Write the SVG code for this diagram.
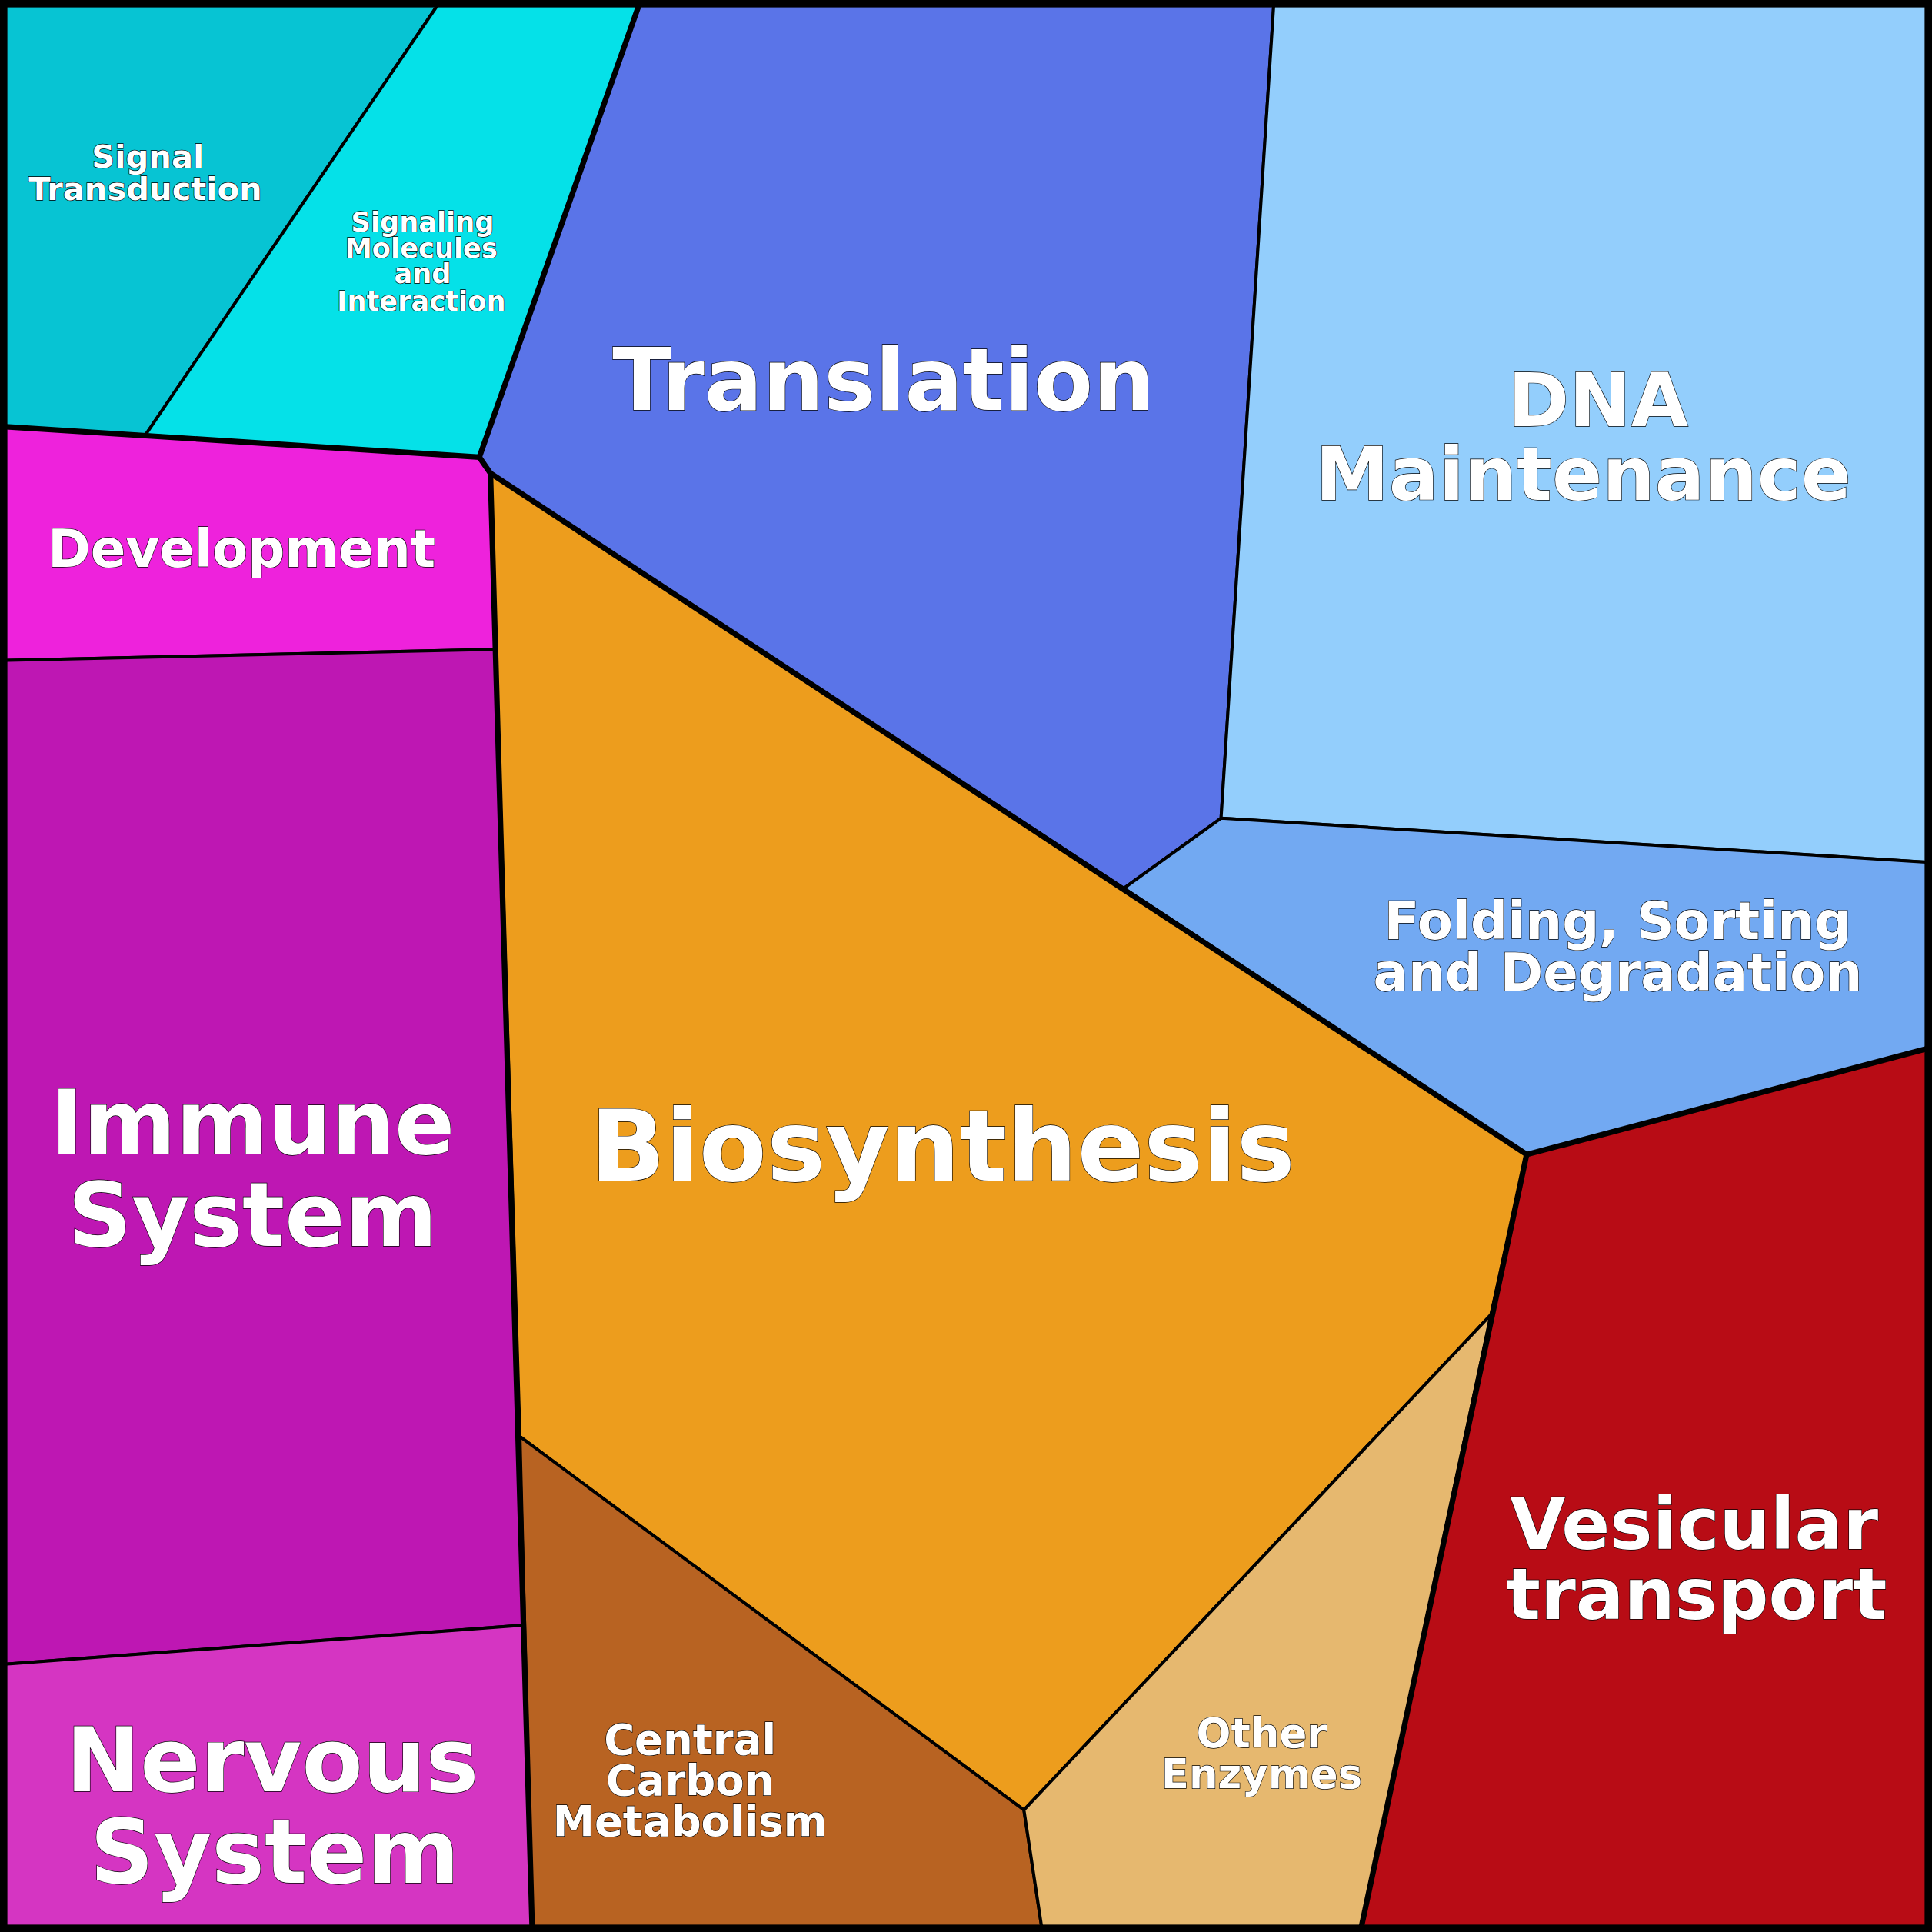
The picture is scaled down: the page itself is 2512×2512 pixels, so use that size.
<svg xmlns="http://www.w3.org/2000/svg" width="2512" height="2512" viewBox="0 0 2512 2512">
<style>
.c{stroke:#000;stroke-width:2.5;stroke-linejoin:round}
.t{fill:none;stroke:#000;stroke-width:4.5;stroke-linejoin:round;stroke-linecap:round}
text{font-family:"DejaVu Sans",sans-serif;font-weight:bold;fill:#fff;text-anchor:middle;stroke:#000;stroke-width:0.8;paint-order:stroke}
</style>
<g transform="scale(1.602041)">
<g id="signal-transduction"><polygon class="c" fill="#07C4D3" points="0,0 358,0 118,353 0,346"/><text font-size="26"><tspan x="120" y="136">Signal</tspan><tspan x="118" y="162">Transduction</tspan></text></g>
<g id="signaling-molecules"><polygon class="c" fill="#05E1E8" points="358,0 520,0 389,371 118,353"/><text font-size="22"><tspan x="343" y="188">Signaling</tspan><tspan x="342" y="209">Molecules</tspan><tspan x="343" y="230">and</tspan><tspan x="342" y="252">Interaction</tspan></text></g>
<g id="translation"><polygon class="c" fill="#5A74E8" points="520,0 1034,0 991,664 912,721 398,384 389,371"/><text font-size="70" x="717" y="333">Translation</text></g>
<g id="dna-maintenance"><polygon class="c" fill="#93CEFC" points="1034,0 1568,0 1568,700 991,664"/><text font-size="60"><tspan x="1297" y="346">DNA</tspan><tspan x="1285" y="406">Maintenance</tspan></text></g>
<g id="folding"><polygon class="c" fill="#72A9F2" points="991,664 1568,700 1568,850 1239,937 912,721"/><text font-size="42"><tspan x="1313" y="762">Folding, Sorting</tspan><tspan x="1313" y="804">and Degradation</tspan></text></g>
<g id="development"><polygon class="c" fill="#EE22DC" points="0,346 389,371 398,384 402,527 0,536"/><text font-size="42" x="196" y="460">Development</text></g>
<g id="immune-system"><polygon class="c" fill="#BE17B3" points="0,536 402,527 425,1319 0,1351"/><text font-size="72"><tspan x="205" y="936">Immune</tspan><tspan x="205" y="1011">System</tspan></text></g>
<g id="nervous-system"><polygon class="c" fill="#D535C2" points="0,1351 425,1319 432,1568 0,1568"/><text font-size="72"><tspan x="221" y="1454">Nervous</tspan><tspan x="223" y="1528">System</tspan></text></g>
<g id="biosynthesis"><polygon class="c" fill="#ED9D1D" points="398,384 912,721 1239,937 1210,1067 831,1469 422,1166"/><text font-size="80" x="765" y="958">Biosynthesis</text></g>
<g id="central-carbon"><polygon class="c" fill="#B86322" points="422,1166 831,1469 846,1568 432,1568"/><text font-size="34"><tspan x="560" y="1424">Central</tspan><tspan x="560" y="1457">Carbon</tspan><tspan x="560" y="1490">Metabolism</tspan></text></g>
<g id="other-enzymes"><polygon class="c" fill="#E6B86F" points="1210,1067 1104,1568 846,1568 831,1469"/><text font-size="33"><tspan x="1024" y="1418">Other</tspan><tspan x="1024" y="1451">Enzymes</tspan></text></g>
<g id="vesicular-transport"><polygon class="c" fill="#B80C15" points="1239,937 1568,850 1568,1568 1104,1568"/><text font-size="58"><tspan x="1375" y="1257">Vesicular</tspan><tspan x="1377" y="1314">transport</tspan></text></g>
<g id="connectors">
<polyline class="t" points="520,0 389,371 0,346"/>
<polyline class="t" points="389,371 398,384 432,1568"/>
<polyline class="t" points="398,384 1239,937 1568,850"/>
<polyline class="t" points="1239,937 1104,1568"/>
<rect x="3" y="3" width="1562" height="1562" fill="none" stroke="#000" stroke-width="6"/>
</g>
</g>
</svg>
